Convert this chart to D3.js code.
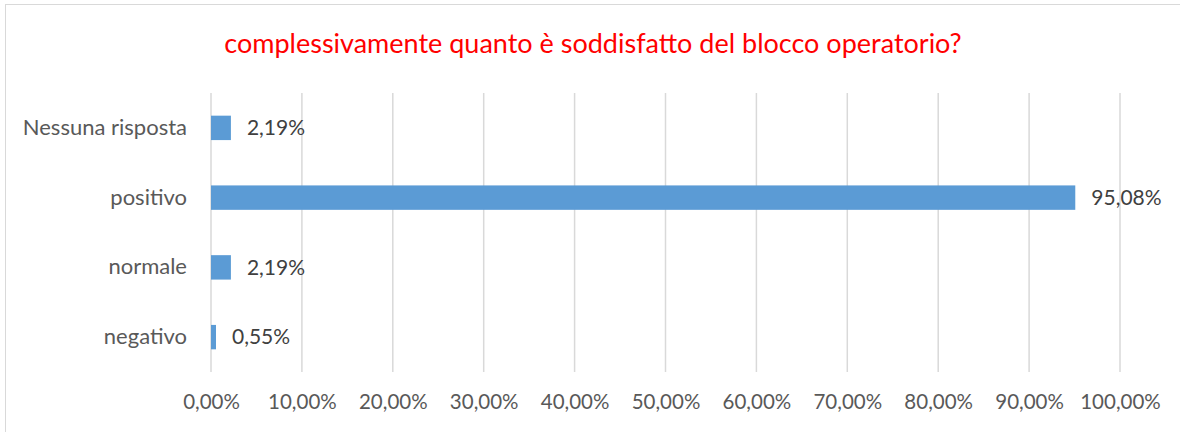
<!DOCTYPE html>
<html>
<head>
<meta charset="utf-8">
<script src="https://cdn.jsdelivr.net/npm/d3@7"></script>
<style>
  body { margin: 0; background: #fff; overflow: hidden; }
  svg { display: block; }
  svg text { font-family: Lato, "Open Sans", sans-serif; }
</style>
</head>
<body>
<div id="chart"></div>
<script>
// dati del grafico
const categories = ["Nessuna risposta", "positivo", "normale", "negativo"];
const values = [2.19, 95.08, 2.19, 0.55];
const ticks = [0, 10, 20, 30, 40, 50, 60, 70, 80, 90, 100];
const title = "complessivamente quanto è soddisfatto del blocco operatorio?";

const W = 1180, H = 432;
const plotLeft = 211, plotRight = 1120, plotTop = 93, plotBottom = 372;

const svg = d3.select("#chart").append("svg")
    .attr("width", W).attr("height", H);

// bordo
svg.append("rect")
    .attr("x", 5.5).attr("y", 4.5)
    .attr("width", W).attr("height", H)
    .attr("fill", "none").attr("stroke", "#d9d9d9");

svg.append("text")
    .attr("x", 593).attr("y", 53)
    .attr("text-anchor", "middle")
    .attr("fill", "#ff0000")
    .attr("font-size", 27)
    .text(title);

const x = d3.scaleLinear().domain([0, 100]).range([plotLeft, plotRight]);
const y = d3.scaleBand().domain(categories).range([plotTop, plotBottom]).paddingInner(0.65).paddingOuter(0.325);

const fmt = v => v.toFixed(2).replace(".", ",") + "%";

// griglia
svg.append("g").selectAll("line")
    .data(ticks).enter().append("line")
    .attr("x1", d => x(d)).attr("x2", d => x(d))
    .attr("y1", plotTop).attr("y2", plotBottom)
    .attr("stroke", "#d9d9d9").attr("stroke-width", 1.5);

// asse x
const xAxis = svg.append("g")
    .attr("transform", `translate(0, ${plotBottom})`)
    .call(d3.axisBottom(x).tickValues(ticks).tickSize(0).tickPadding(22).tickFormat(fmt));
xAxis.select(".domain").remove();
xAxis.selectAll("text").attr("font-size", 20.5).attr("fill", "#595959").attr("font-family", "Lato");

// asse y
const yAxis = svg.append("g")
    .attr("transform", `translate(${plotLeft - 24}, 0)`)
    .call(d3.axisLeft(y).tickSize(0).tickPadding(0));
yAxis.select(".domain").remove();
yAxis.selectAll("text").attr("font-size", 22).attr("fill", "#595959").attr("font-family", "Lato");

// barre
svg.append("g").selectAll("rect")
    .data(values).enter().append("rect")
    .attr("x", x(0))
    .attr("y", (d, i) => y(categories[i]))
    .attr("width", d => x(d) - x(0))
    .attr("height", y.bandwidth())
    .attr("fill", "#5b9bd5");

// etichette valori
svg.append("g").selectAll("text")
    .data(values).enter().append("text")
    .attr("x", d => x(d) + 16)
    .attr("y", (d, i) => y(categories[i]) + y.bandwidth() / 2)
    .attr("dy", "0.35em")
    .attr("font-size", 21)
    .attr("fill", "#404040")
    .text(fmt);
</script>
</body>
</html>
